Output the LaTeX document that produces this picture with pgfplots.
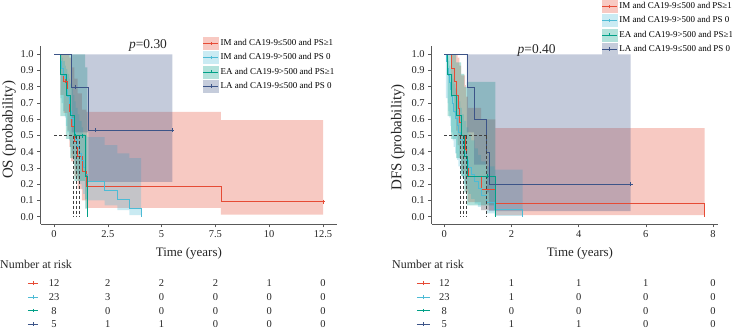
\documentclass[border=0pt]{standalone}
\usepackage{pgfplots}
\pgfplotsset{compat=1.18}
\usepgfplotslibrary{fillbetween}
\usepackage{fontspec}
\setmainfont{Liberation Serif}
\definecolor{cR}{HTML}{E64B35}
\definecolor{cC}{HTML}{4DBBD5}
\definecolor{cT}{HTML}{00A087}
\definecolor{cN}{HTML}{3C5488}
\pgfplotsset{
  kmaxis/.style={scale only axis, anchor=south west, clip=false,
    axis lines*=left, axis line style={black!65, line width=0.6pt},
    tick style={black!65, line width=0.6pt}, tick align=outside, major tick length=3.5bp,
    ymin=-0.045, ymax=1.05, height=177.8bp,
    ytick={0,0.1,0.2,0.3,0.4,0.5,0.6,0.7,0.8,0.9,1.0},
    y tick label style={/pgf/number format/.cd, fixed, fixed zerofill, precision=1},
    /pgf/number format/assume math mode=true,
    ticklabel style={font=\fontsize{10.5}{12}\selectfont, black!85},
    xlabel style={font=\fontsize{13}{15}\selectfont, black!85, anchor=center},
    ylabel style={font=\fontsize{15}{17}\selectfont, black!85, anchor=center},
    legend cell align=left,
    legend style={draw=none, fill=none, font=\fontsize{9}{10}\selectfont, row sep=1.8bp, inner sep=0pt, anchor=north west}},
  band/.style={fill=#1, fill opacity=0.3, draw=none, forget plot},
  km/.style={const plot, #1, line width=0.45pt, forget plot},
  cens/.style={only marks, mark=+, mark size=2bp, #1, mark options={line width=0.45pt}, forget plot},
  med/.style={black!75, dash pattern=on 3bp off 2bp, line width=0.55pt, forget plot},
  lim/.style={const plot, draw=none, forget plot},
  riskaxis/.style={scale only axis, anchor=south west, hide axis, clip=false,
    ymin=0.655, ymax=4.5, height=52.56bp},
  rnum/.style={only marks, mark=none, nodes near coords, point meta=explicit symbolic,
    every node near coord/.append style={anchor=center, font=\fontsize{10.5}{12}\selectfont, black!85}, forget plot},
  rline/.style={#1, line width=0.6pt, forget plot},
  rplus/.style={only marks, mark=+, mark size=1.8bp, #1, mark options={#1, line width=0.6pt}, forget plot},
  legR/.style={legend image code/.code={\fill[cR!30] (0bp,-6bp) rectangle (15bp,6bp); \draw[cR, line width=0.45pt] (0bp,0bp)--(15bp,0bp); \draw[cR, line width=0.45pt] (7.5bp,-1.6bp)--(7.5bp,1.6bp);}},
  legC/.style={legend image code/.code={\fill[cC!30] (0bp,-6bp) rectangle (15bp,6bp); \draw[cC, line width=0.45pt] (0bp,0bp)--(15bp,0bp); \draw[cC, line width=0.45pt] (7.5bp,-1.6bp)--(7.5bp,1.6bp);}},
  legT/.style={legend image code/.code={\fill[cT!30] (0bp,-6bp) rectangle (15bp,6bp); \draw[cT, line width=0.45pt] (0bp,0bp)--(15bp,0bp); \draw[cT, line width=0.45pt] (7.5bp,-1.6bp)--(7.5bp,1.6bp);}},
  legN/.style={legend image code/.code={\fill[cN!30] (0bp,-6bp) rectangle (15bp,6bp); \draw[cN, line width=0.45pt] (0bp,0bp)--(15bp,0bp); \draw[cN, line width=0.45pt] (7.5bp,-1.6bp)--(7.5bp,1.6bp);}},
}
\begin{document}
\begin{tikzpicture}
% ================= LEFT: OS =================
\begin{axis}[kmaxis, at={(40.7bp,105bp)}, width=296.3bp,
  xmin=-0.618, xmax=13.15, xtick={0,2.5,5,7.5,10,12.5},
  xlabel={Time (years)}, ylabel={OS (probability)},
  xlabel style={at={(axis description cs:0.5,-0.163)}},
  ylabel style={at={(axis description cs:-0.107,0.53)}},
  legend style={at={(0.548,1.052)}}]
\addlegendimage{legR}\addlegendentry{IM and CA19-9≤500 and PS≥1}
\addlegendimage{legC}\addlegendentry{IM and CA19-9>500 and PS 0}
\addlegendimage{legT}\addlegendentry{EA and CA19-9>500 and PS≥1}
\addlegendimage{legN}\addlegendentry{LA and CA19-9≤500 and PS 0}
% red band
\addplot[lim, name path=rU] coordinates {(0,1)(0.30,1)(0.45,1)(0.62,1)(0.72,0.98)(0.80,0.92)(0.95,0.85)(1.10,0.76)(1.30,0.66)(1.50,0.645)(7.75,0.595)(12.5,0.595)};
\addplot[lim, name path=rL] coordinates {(0,1)(0.30,0.75)(0.45,0.64)(0.62,0.53)(0.72,0.43)(0.80,0.34)(0.95,0.25)(1.10,0.17)(1.30,0.10)(1.50,0.055)(7.75,0.012)(12.5,0.012)};
\addplot[band=cR] fill between[of=rU and rL];
% cyan band
\addplot[lim, name path=cU] coordinates {(0,1)(0.30,1)(0.35,0.98)(0.42,0.96)(0.50,0.93)(0.55,0.91)(0.62,0.88)(0.70,0.85)(0.75,0.82)(0.82,0.79)(0.88,0.75)(0.95,0.71)(1.00,0.67)(1.10,0.63)(1.18,0.59)(1.28,0.55)(1.35,0.51)(1.45,0.50)(1.55,0.49)(2.35,0.44)(2.95,0.39)(3.50,0.36)(4.05,0.36)};
\addplot[lim, name path=cL] coordinates {(0,1)(0.30,0.73)(0.35,0.70)(0.42,0.65)(0.50,0.61)(0.55,0.56)(0.62,0.52)(0.70,0.47)(0.75,0.43)(0.82,0.39)(0.88,0.35)(0.95,0.31)(1.00,0.27)(1.10,0.24)(1.18,0.20)(1.28,0.17)(1.35,0.14)(1.45,0.11)(1.55,0.10)(2.35,0.07)(2.95,0.04)(3.50,0.01)(4.05,0.01)};
\addplot[band=cC] fill between[of=cU and cL];
% teal band
\addplot[lim, name path=tU] coordinates {(0,1)(0.30,1)(0.55,1)(0.75,1)(0.95,1)(1.45,0.92)(1.55,0.92)};
\addplot[lim, name path=tL] coordinates {(0,1)(0.30,0.62)(0.55,0.48)(0.75,0.36)(0.95,0.22)(1.45,0.05)(1.55,0.05)};
\addplot[band=cT] fill between[of=tU and tL];
% navy band
\addplot[lim, name path=nU] coordinates {(0,1)(0.82,1)(1.6,1)(5.5,1)};
\addplot[lim, name path=nL] coordinates {(0,1)(0.82,0.52)(1.6,0.215)(5.5,0.215)};
\addplot[band=cN] fill between[of=nU and nL];
% lines
\addplot[km=cR] coordinates {(0,1)(0.30,0.917)(0.45,0.833)(0.62,0.741)(0.72,0.648)(0.80,0.556)(0.95,0.463)(1.10,0.370)(1.30,0.278)(1.50,0.185)(7.75,0.093)(12.5,0.093)};
\addplot[km=cC] coordinates {(0,1)(0.30,0.957)(0.35,0.913)(0.42,0.870)(0.50,0.826)(0.55,0.783)(0.62,0.739)(0.70,0.696)(0.75,0.652)(0.82,0.609)(0.88,0.565)(0.95,0.522)(1.00,0.478)(1.10,0.435)(1.18,0.391)(1.28,0.348)(1.35,0.304)(1.45,0.261)(1.55,0.217)(2.35,0.163)(2.95,0.109)(3.50,0.054)(4.05,0)};
\addplot[km=cT] coordinates {(0,1)(0.30,0.875)(0.55,0.75)(0.75,0.625)(0.95,0.5)(1.45,0.25)(1.55,0)};
\addplot[km=cN] coordinates {(0,1)(0.82,0.8)(1.6,0.533)(5.5,0.533)};
\addplot[cens=cR] coordinates {(0.51,0.833)(12.5,0.093)};
\addplot[cens=cT] coordinates {(1.0,0.5)(1.3,0.5)};
\addplot[cens=cN] coordinates {(1.0,0.8)(1.9,0.533)(5.5,0.533)};
% medians
\addplot[med] coordinates {(0,0.5)(1.16,0.5)};
\addplot[med] coordinates {(0.90,0.5)(0.90,0)};
\addplot[med] coordinates {(1.02,0.5)(1.02,0)};
\addplot[med] coordinates {(1.16,0.5)(1.16,0)};
\node[font=\fontsize{13.5}{15}\selectfont, black!85] at (axis cs:4.37,1.057) {\textit{p}=0.30};
\end{axis}
% left risk table
\begin{axis}[riskaxis, at={(40.7bp,0bp)}, width=296.3bp, xmin=-0.618, xmax=13.15]
\addplot[rnum] table[meta=n] {
x y n
0 4 12
2.5 4 2
5 4 2
7.5 4 2
10 4 1
12.5 4 0
0 3 23
2.5 3 3
5 3 0
7.5 3 0
10 3 0
12.5 3 0
0 2 8
2.5 2 0
5 2 0
7.5 2 0
10 2 0
12.5 2 0
0 1 5
2.5 1 1
5 1 1
7.5 1 0
10 1 0
12.5 1 0
};
\addplot[rline=cR] coordinates {(-1.21,4)(-0.74,4)};
\addplot[rline=cC] coordinates {(-1.21,3)(-0.74,3)};
\addplot[rline=cT] coordinates {(-1.21,2)(-0.74,2)};
\addplot[rline=cN] coordinates {(-1.21,1)(-0.74,1)};
\addplot[rplus=cR] coordinates {(-0.98,4)};
\addplot[rplus=cC] coordinates {(-0.98,3)};
\addplot[rplus=cT] coordinates {(-0.98,2)};
\addplot[rplus=cN] coordinates {(-0.98,1)};
\node[anchor=west, inner sep=0pt, font=\fontsize{12}{14}\selectfont, black!85] at (axis cs:-2.51,5.41) {Number at risk};
\end{axis}
% ================= RIGHT: DFS =================
\begin{axis}[kmaxis, at={(431.7bp,105bp)}, width=286.3bp,
  xmin=-0.375, xmax=8.15, xtick={0,2,4,6,8},
  xlabel={Time (years)}, ylabel={DFS (probability)},
  xlabel style={at={(axis description cs:0.518,-0.163)}},
  ylabel style={at={(axis description cs:-0.118,0.487)}},
  legend style={at={(0.594,1.26)}}]
\addlegendimage{legR}\addlegendentry{IM and CA19-9≤500 and PS≥1}
\addlegendimage{legC}\addlegendentry{IM and CA19-9>500 and PS 0}
\addlegendimage{legT}\addlegendentry{EA and CA19-9>500 and PS≥1}
\addlegendimage{legN}\addlegendentry{LA and CA19-9≤500 and PS 0}
% red band
\addplot[lim, name path=RU] coordinates {(0,1)(0.20,1)(0.30,1)(0.35,1)(0.40,0.98)(0.45,0.93)(0.50,0.87)(0.62,0.81)(0.64,0.74)(0.70,0.67)(1.10,0.60)(1.52,0.545)(7.75,0.545)};
\addplot[lim, name path=RL] coordinates {(0,1)(0.20,0.75)(0.30,0.64)(0.35,0.53)(0.40,0.44)(0.45,0.36)(0.50,0.28)(0.62,0.21)(0.64,0.15)(0.70,0.09)(1.10,0.04)(1.52,0.01)(7.75,0.01)};
\addplot[band=cR] fill between[of=RU and RL];
% cyan band
\addplot[lim, name path=CU] coordinates {(0,1)(0.05,1)(0.10,0.98)(0.12,0.96)(0.15,0.93)(0.18,0.91)(0.20,0.88)(0.25,0.85)(0.28,0.82)(0.32,0.79)(0.38,0.75)(0.42,0.71)(0.48,0.67)(0.52,0.63)(0.58,0.59)(0.65,0.55)(0.72,0.51)(0.80,0.47)(0.90,0.42)(1.00,0.38)(1.10,0.34)(1.25,0.31)(1.50,0.29)(2.33,0.29)};
\addplot[lim, name path=CL] coordinates {(0,1)(0.05,0.73)(0.10,0.70)(0.12,0.65)(0.15,0.61)(0.18,0.56)(0.20,0.52)(0.25,0.47)(0.28,0.43)(0.32,0.39)(0.38,0.35)(0.42,0.31)(0.48,0.27)(0.52,0.24)(0.58,0.20)(0.65,0.17)(0.72,0.14)(0.80,0.11)(0.90,0.08)(1.00,0.06)(1.10,0.04)(1.25,0.02)(1.50,0.005)(2.33,0.005)};
\addplot[band=cC] fill between[of=CU and CL];
% teal band
\addplot[lim, name path=TU] coordinates {(0,1)(0.10,1)(0.20,1)(0.35,0.95)(0.50,0.88)(0.60,0.80)(0.67,0.83)(1.52,0.83)};
\addplot[lim, name path=TL] coordinates {(0,1)(0.10,0.62)(0.20,0.48)(0.35,0.36)(0.50,0.25)(0.60,0.15)(0.67,0.07)(1.52,0.07)};
\addplot[band=cT] fill between[of=TU and TL];
% navy band
\addplot[lim, name path=NU] coordinates {(0,1)(0.67,1)(5.55,1)};
\addplot[lim, name path=NL] coordinates {(0,1)(0.67,0.52)(0.89,0.32)(1.26,0.15)(1.33,0.035)(5.55,0.035)};
\addplot[band=cN] fill between[of=NU and NL];
% lines
\addplot[km=cR] coordinates {(0,1)(0.20,0.917)(0.30,0.833)(0.35,0.75)(0.40,0.667)(0.45,0.583)(0.50,0.50)(0.62,0.417)(0.64,0.333)(0.70,0.25)(1.10,0.167)(1.52,0.083)(7.75,0)};
\addplot[km=cC] coordinates {(0,1)(0.05,0.957)(0.10,0.913)(0.12,0.870)(0.15,0.826)(0.18,0.783)(0.20,0.739)(0.25,0.696)(0.28,0.652)(0.32,0.609)(0.38,0.565)(0.42,0.522)(0.48,0.478)(0.52,0.435)(0.58,0.391)(0.65,0.348)(0.72,0.304)(0.80,0.261)(0.90,0.217)(1.00,0.174)(1.10,0.130)(1.25,0.087)(1.50,0.043)(2.33,0)};
\addplot[km=cT] coordinates {(0,1)(0.10,0.875)(0.20,0.75)(0.35,0.625)(0.50,0.5)(0.60,0.375)(0.67,0.25)(1.52,0)};
\addplot[km=cN] coordinates {(0,1)(0.67,0.8)(0.89,0.6)(1.26,0.4)(1.33,0.2)(5.55,0.2)};
\addplot[cens=cT] coordinates {(1.28,0.25)};
\addplot[cens=cN] coordinates {(5.55,0.2)};
% medians
\addplot[med] coordinates {(0,0.5)(1.26,0.5)};
\addplot[med] coordinates {(0.49,0.5)(0.49,0)};
\addplot[med] coordinates {(0.57,0.5)(0.57,0)};
\addplot[med] coordinates {(0.65,0.5)(0.65,0)};
\addplot[med] coordinates {(1.26,0.5)(1.26,0)};
\node[font=\fontsize{13.5}{15}\selectfont, black!85] at (axis cs:2.75,1.026) {\textit{p}=0.40};
\end{axis}
% right risk table
\begin{axis}[riskaxis, at={(431.7bp,0bp)}, width=286.3bp, xmin=-0.375, xmax=8.15]
\addplot[rnum] table[meta=n] {
x y n
0 4 12
2 4 1
4 4 1
6 4 1
8 4 0
0 3 23
2 3 1
4 3 0
6 3 0
8 3 0
0 2 8
2 2 0
4 2 0
6 2 0
8 2 0
0 1 5
2 1 1
4 1 1
6 1 0
8 1 0
};
\addplot[rline=cR] coordinates {(-0.82,4)(-0.43,4)};
\addplot[rline=cC] coordinates {(-0.82,3)(-0.43,3)};
\addplot[rline=cT] coordinates {(-0.82,2)(-0.43,2)};
\addplot[rline=cN] coordinates {(-0.82,1)(-0.43,1)};
\addplot[rplus=cR] coordinates {(-0.63,4)};
\addplot[rplus=cC] coordinates {(-0.63,3)};
\addplot[rplus=cT] coordinates {(-0.63,2)};
\addplot[rplus=cN] coordinates {(-0.63,1)};
\node[anchor=west, inner sep=0pt, font=\fontsize{12}{14}\selectfont, black!85] at (axis cs:-1.557,5.41) {Number at risk};
\end{axis}
\pgfresetboundingbox
\path[use as bounding box] (0bp,0bp) rectangle (732bp,329bp);
\end{tikzpicture}
\end{document}
